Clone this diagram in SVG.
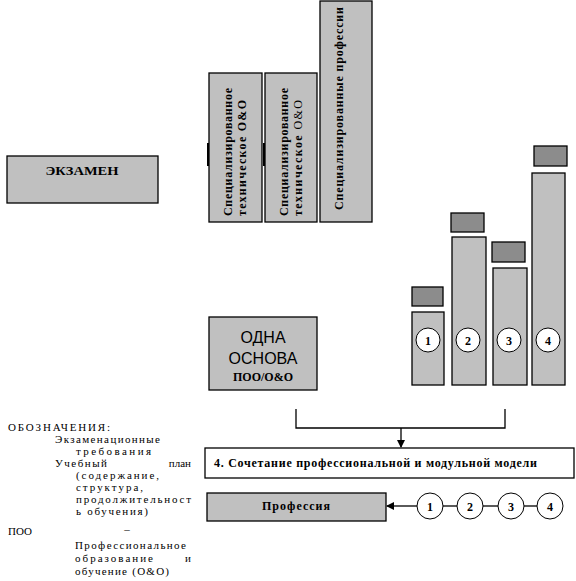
<svg xmlns="http://www.w3.org/2000/svg" width="576" height="581" viewBox="0 0 576 581">
<style>
.box{fill:#c0c0c0;stroke:#000;stroke-width:1.3}
.wbox{fill:#fff;stroke:#000;stroke-width:1.3}
.dk{fill:#8c8c8c;stroke:#000;stroke-width:1.3}
.circ{fill:#fff;stroke:#000;stroke-width:1}
.b{font-family:"Liberation Serif","Times New Roman",serif;font-weight:bold;font-size:12px;fill:#000}
.n{font-family:"Liberation Serif","Times New Roman",serif;font-size:11px;fill:#000}
.s{font-family:"Liberation Sans",Arial,sans-serif;font-size:16px;fill:#000}
.ln{fill:none;stroke:#000;stroke-width:1.3}
</style>
<defs>
<marker id="ah" markerWidth="8" markerHeight="8" refX="7" refY="4" orient="auto" markerUnits="userSpaceOnUse">
<path d="M0,0 L8,4 L0,8 Z" fill="#000"/>
</marker>
</defs>
<rect width="576" height="581" fill="#fff"/>

<g id="exam">
<rect class="box" x="7" y="156" width="151" height="47"/>
<text class="b" x="82" y="175" text-anchor="middle" font-size="17" textLength="73" lengthAdjust="spacingAndGlyphs">ЭКЗАМЕН</text>
</g>

<g id="col1">
<rect class="box" x="209" y="73" width="53" height="149"/>
<line x1="208" y1="143" x2="208" y2="166" stroke="#000" stroke-width="2"/>
<text class="b" transform="translate(232,216) rotate(-90)" font-size="12.5" textLength="128" lengthAdjust="spacing">Специализированное</text>
<text class="b" transform="translate(246,216) rotate(-90)" font-size="12.5" textLength="116" lengthAdjust="spacing">техническое  О&amp;О</text>
</g>

<g id="col2">
<rect class="box" x="265" y="73" width="52" height="149"/>
<line x1="264" y1="143" x2="264" y2="166" stroke="#000" stroke-width="2"/>
<text class="b" transform="translate(288,216) rotate(-90)" font-size="12.5" textLength="128" lengthAdjust="spacing">Специализированное</text>
<text class="b" transform="translate(302,216) rotate(-90)" font-size="12.5" textLength="116" lengthAdjust="spacing">техническое <tspan font-weight="normal">О&amp;О</tspan></text>
</g>

<g id="col3">
<rect class="box" x="320" y="1" width="52" height="221"/>
<text class="b" transform="translate(343,210) rotate(-90)" font-size="12.5" textLength="203" lengthAdjust="spacing">Специализированные профессии</text>
</g>

<g id="base">
<rect class="box" x="209" y="317" width="108" height="73"/>
<text class="s" x="263" y="343" text-anchor="middle">ОДНА</text>
<text class="s" x="263" y="364" text-anchor="middle">ОСНОВА</text>
<text class="b" x="263" y="381" text-anchor="middle" font-size="12">ПОО/О&amp;О</text>
</g>

<g id="bar1">
<rect class="dk" x="412" y="287" width="31" height="19"/>
<rect class="box" x="412" y="312" width="32" height="73"/>
<circle class="circ" cx="428" cy="340" r="12"/>
<text class="b" x="428" y="345" text-anchor="middle" font-size="13">1</text>
</g>
<g id="bar2">
<rect class="dk" x="451" y="213" width="33" height="19"/>
<rect class="box" x="452" y="237" width="34" height="148"/>
<circle class="circ" cx="468" cy="340" r="12"/>
<text class="b" x="468" y="345" text-anchor="middle" font-size="13">2</text>
</g>
<g id="bar3">
<rect class="dk" x="492" y="242" width="33" height="20"/>
<rect class="box" x="493" y="268" width="34" height="117"/>
<circle class="circ" cx="509" cy="340" r="12"/>
<text class="b" x="509" y="345" text-anchor="middle" font-size="13">3</text>
</g>
<g id="bar4">
<rect class="dk" x="534" y="146" width="33" height="20"/>
<rect class="box" x="532" y="173" width="33" height="212"/>
<circle class="circ" cx="548" cy="340" r="12"/>
<text class="b" x="548" y="345" text-anchor="middle" font-size="13">4</text>
</g>

<g id="combo">
<rect class="wbox" x="205" y="448" width="369" height="30"/>
<text class="b" x="214" y="467" textLength="323" lengthAdjust="spacing">4. Сочетание профессиональной и модульной модели</text>
</g>

<g id="profession">
<rect class="box" x="207" y="493" width="179" height="28"/>
<text class="b" x="296" y="510" text-anchor="middle" font-size="13.5" textLength="68" lengthAdjust="spacing">Профессия</text>
</g>

<g id="seq">
<circle class="circ" cx="430" cy="506" r="13"/>
<text class="b" x="430" y="511" text-anchor="middle" font-size="13">1</text>
<circle class="circ" cx="470" cy="506" r="13"/>
<text class="b" x="470" y="511" text-anchor="middle" font-size="13">2</text>
<circle class="circ" cx="511" cy="506" r="13"/>
<text class="b" x="511" y="511" text-anchor="middle" font-size="13">3</text>
<circle class="circ" cx="550" cy="506" r="13"/>
<text class="b" x="550" y="511" text-anchor="middle" font-size="13">4</text>
</g>

<g id="connectors">
<polyline class="ln" points="296,409 296,428 505,428 505,409"/>
<line class="ln" x1="401" y1="428" x2="401" y2="447" marker-end="url(#ah)"/>
<line class="ln" x1="417" y1="506" x2="387" y2="506" marker-end="url(#ah)"/>
<line class="ln" x1="443" y1="506" x2="457" y2="506"/>
<line class="ln" x1="483" y1="506" x2="498" y2="506"/>
<line class="ln" x1="524" y1="506" x2="537" y2="506"/>
</g>

<g id="legend">
<text class="n" x="8" y="431" font-size="12.5" textLength="102" lengthAdjust="spacing">ОБОЗНАЧЕНИЯ:</text>
<text class="n" x="55" y="443" textLength="105" lengthAdjust="spacing">Экзаменационные</text>
<text class="n" x="76" y="455" textLength="75" lengthAdjust="spacing">требования</text>
<text class="n" x="55" y="467" textLength="52" lengthAdjust="spacing">Учебный</text>
<text class="n" x="191" y="467" text-anchor="end">план</text>
<text class="n" x="76" y="479" textLength="83" lengthAdjust="spacing">(содержание,</text>
<text class="n" x="76" y="491" textLength="67" lengthAdjust="spacing">структура,</text>
<text class="n" x="76" y="503" textLength="115" lengthAdjust="spacing">продолжительност</text>
<text class="n" x="76" y="515" textLength="72" lengthAdjust="spacing">ь обучения)</text>
<text class="n" x="8" y="535" font-size="12.5">ПОО</text>
<text class="n" x="127" y="533" text-anchor="middle">–</text>
<text class="n" x="75" y="549" textLength="111" lengthAdjust="spacing">Профессиональное</text>
<text class="n" x="75" y="562" textLength="78" lengthAdjust="spacing">образование</text>
<text class="n" x="191" y="562" text-anchor="end">и</text>
<text class="n" x="75" y="575" textLength="94" lengthAdjust="spacing">обучение (О&amp;О)</text>
</g>
</svg>
